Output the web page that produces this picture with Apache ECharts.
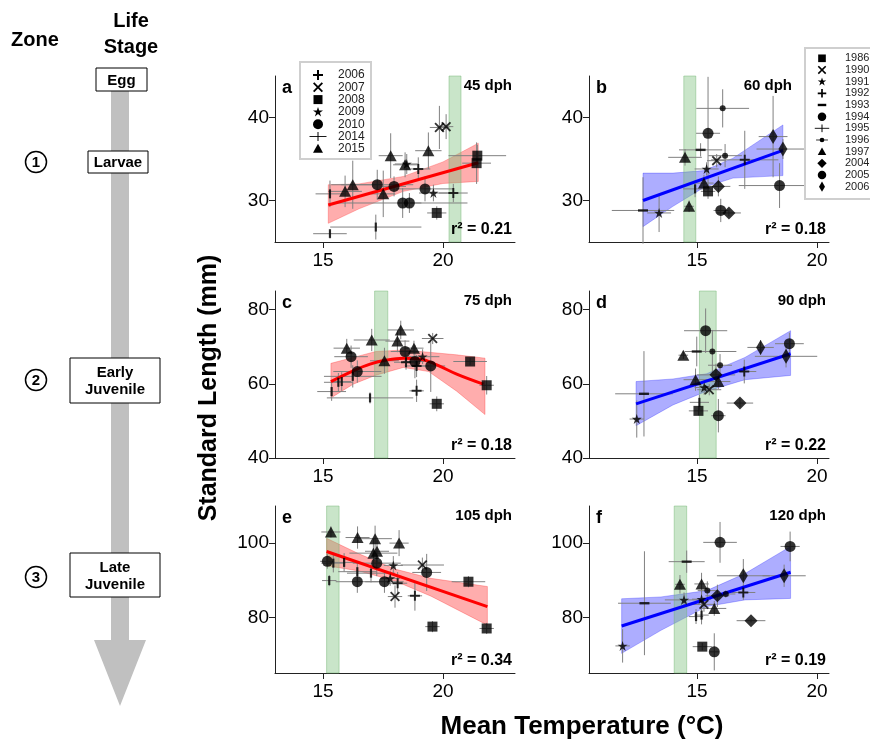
<!DOCTYPE html>
<html><head><meta charset="utf-8">
<script src="https://cdn.jsdelivr.net/npm/echarts@6/dist/echarts.min.js"></script>
<style>html,body{margin:0;padding:0;background:#fff}#c{width:870px;height:739px}</style>
</head><body><div id="c"></div>
<script>
const FONT = '"Liberation Sans", Arial, Helvetica, sans-serif';

// ---------------- data ----------------
const panelLetters = ['a','b','c','d','e','f'];
const panelAges = ['45 dph','60 dph','75 dph','90 dph','105 dph','120 dph'];
const panelR2 = ['0.21','0.18','0.18','0.22','0.34','0.19'];
const xTickValues = [15, 20];
const yTickValues = [[30, 40], [40, 60, 80], [80, 100]];
const greenBands = [[20.25,20.75],[14.45,14.95],[17.15,17.7],[15.1,15.8],[15.15,15.67],[14.05,14.57]];

const legendYearsA = ['2006','2007','2008','2009','2010','2014','2015'];
const legendSymbolsA = ['plus','x','sq','star','circ','tick','tri'];
const legendYearsB = ['1986','1990','1991','1992','1993','1994','1995','1996','1997','2004','2005','2006'];
const legendSymbolsB = ['sq','x','star','plus','minus','circ','tick','dot','tri','dia','circ','tdia'];

// rows: [year, mean temperature, standard length, temp error, length error]
const pointsA = [
 ['2015',15.92,31.1,0.7,1.9],['2015',16.24,31.9,0.9,2.9],['2015',17.51,30.8,0.5,2.8],
 ['2015',17.82,35.4,0.5,2.7],['2015',18.42,34.3,0.5,1.5],['2015',19.39,36.0,0.55,2.2],
 ['2009',18.49,34.4,0.5,1.2],['2009',19.60,30.9,0.6,1.0],
 ['2010',17.26,31.9,1.5,1.8],['2010',17.96,31.7,0.5,1.2],['2010',18.32,29.7,2.7,1.8],
 ['2010',18.60,29.7,0.5,1.2],['2010',19.25,31.4,1.2,1.5],
 ['2008',19.74,28.5,0.4,0.8],['2008',21.43,35.4,1.2,1.3],['2008',21.40,34.5,0.6,2.5],
 ['2007',19.85,38.8,0.4,2.6],['2007',20.13,38.9,0.3,1.5],
 ['2006',18.97,33.8,0.5,1.4],['2006',20.43,30.9,0.6,1.1],
 ['2014',15.29,26.0,0.7,0.4],['2014',17.20,26.8,1.9,1.5],['2014',15.29,30.8,0.6,1.6]
];
const pointsB = [
 ['1986',15.46,31.1,0.3,0.9],['1990',15.82,34.8,0.4,0.8],
 ['1991',13.42,28.5,0.5,2.3],['1991',15.40,33.8,0.5,0.8],
 ['1992',16.99,34.9,1.4,3.5],
 ['1993',12.75,28.8,1.3,4.0],['1993',15.15,36.1,0.9,0.8],
 ['1994',15.46,38.1,0.5,6.8],['1994',18.44,31.8,1.7,2.7],
 ['1995',14.92,31.4,0.5,1.0],
 ['1996',16.07,41.1,1.1,2.3],['1996',16.17,35.4,0.7,1.4],
 ['1997',14.50,35.2,0.7,1.0],['1997',14.67,29.3,0.2,0.7],['1997',15.29,32.1,0.4,1.0],
 ['2004',15.89,31.7,0.5,1.2],['2004',16.33,28.5,0.5,0.4],
 ['2005',15.99,28.8,0.3,1.4],
 ['2006',18.17,37.7,0.6,4.9],['2006',18.58,36.2,1.1,1.2]
];
const pointsC = [
 ['2015',15.99,69.6,0.55,2.5],['2015',17.03,71.8,0.75,3.0],['2015',18.24,74.5,0.55,2.5],
 ['2015',18.10,71.5,0.5,3.0],['2015',18.79,69.6,0.4,2.0],['2015',17.56,66.2,0.6,3.5],
 ['2010',16.17,67.3,0.7,3.0],['2010',16.43,63.3,1.0,3.0],['2010',18.42,68.7,0.6,3.0],
 ['2010',18.83,66.0,0.5,4.5],['2010',19.49,64.8,0.6,7.0],
 ['2007',19.57,72.2,0.45,1.5],['2009',19.15,67.3,0.7,2.0],
 ['2008',21.13,66.0,0.7,1.0],['2008',21.82,59.6,0.3,2.5],['2008',19.74,54.6,0.3,2.0],
 ['2006',18.46,65.8,0.5,2.0],['2006',18.90,64.8,0.5,3.0],['2006',18.90,58.1,0.3,3.0],
 ['2014',15.36,57.9,0.6,2.5],['2014',15.64,60.4,0.6,2.5],['2014',15.78,60.6,0.4,2.5],
 ['2014',16.24,62.0,1.2,3.0],['2014',16.96,56.2,1.8,1.5]
];
const pointsD = [
 ['1991',12.49,50.5,0.3,5.0],['1993',12.79,57.3,1.2,11.5],['1993',14.99,68.7,0.5,4.0],
 ['1997',14.43,67.7,0.2,1.0],['1997',14.94,61.1,0.5,3.0],['1997',15.89,60.6,0.5,2.0],
 ['1994',15.36,74.3,0.9,6.0],['1994',18.85,70.8,0.6,3.0],['2005',15.89,51.4,0.3,4.5],
 ['1996',15.64,68.7,1.0,5.8],['1996',15.96,65.0,0.5,3.0],
 ['1986',15.06,52.7,0.4,1.2],['1990',15.51,58.4,0.5,1.5],
 ['2004',15.79,62.4,0.8,3.0],['2004',16.79,54.8,0.55,1.0],
 ['2006',17.65,69.8,0.55,2.0],['2006',18.71,67.4,1.3,3.0],
 ['1992',16.97,63.3,0.5,3.2],['1995',15.10,55.0,0.4,2.0],['1991',15.30,59.0,0.4,2.0]
];
const pointsE = [
 ['2015',15.33,103.0,0.4,1.5],['2015',16.44,101.5,0.5,3.0],['2015',17.17,101.2,0.7,3.5],
 ['2015',18.17,100.0,0.4,3.5],['2015',17.10,97.3,1.0,4.0],['2015',17.25,97.8,0.5,3.0],
 ['2010',15.18,95.1,0.3,2.0],['2010',16.43,89.6,0.9,3.0],['2010',17.24,94.6,1.0,3.5],
 ['2010',17.56,89.6,0.8,3.0],['2010',19.32,92.1,0.6,5.0],
 ['2014',15.43,94.6,0.5,2.5],['2014',15.26,89.9,0.3,1.5],['2014',15.88,94.8,0.6,2.5],
 ['2014',16.43,92.3,0.8,2.5],['2014',17.00,91.9,1.0,2.5],
 ['2009',17.93,94.0,0.4,2.5],['2009',17.80,90.5,0.4,2.0],
 ['2007',19.14,94.1,0.9,2.0],['2007',18.00,85.6,0.3,3.0],
 ['2006',18.11,89.2,0.4,3.0],['2006',18.83,85.8,0.3,4.0],
 ['2008',21.06,89.6,0.7,1.5],['2008',21.82,77.0,0.3,1.5],['2008',19.56,77.5,0.3,1.5]
];
const pointsF = [
 ['1991',11.90,72.3,0.3,4.5],['1991',14.46,84.7,0.8,2.0],['1991',15.19,84.9,0.4,3.5],
 ['1993',12.81,83.8,1.1,14.0],['1993',14.57,95.0,0.75,3.0],
 ['1997',14.29,88.9,0.2,2.5],['1997',15.19,89.0,0.3,3.0],['1997',15.72,82.4,0.5,2.0],
 ['1996',15.43,87.2,0.4,2.5],['1996',16.20,86.3,0.4,1.0],
 ['1990',15.29,83.5,0.5,2.0],['2004',15.85,85.8,0.5,3.0],['2004',17.25,79.1,0.6,0.5],
 ['2006',16.93,91.2,1.1,4.5],['2006',18.63,91.2,0.9,3.0],
 ['1994',15.96,100.2,0.7,5.5],['1994',18.88,99.1,0.4,4.0],
 ['2005',15.72,70.7,0.2,5.0],['1986',15.22,72.1,0.4,1.0],['1992',16.93,86.7,0.5,2.0],
 ['1995',14.96,80.2,0.3,2.0],['1995',15.19,80.6,0.3,2.5]
];

// regression fits
const lineAx = [15.22, 21.47], lineAy = [29.46, 34.55];
const lineBx = [12.75, 18.58], lineBy = [30.0, 36.04];
const lineCx = [15.33,16.26,16.96,17.65,18.35,19.04,19.74,20.57,21.68];
const lineCy = [60.6,63.5,65.3,66.4,66.9,66.7,65.1,62.6,59.9];
const lineDx = [12.46, 18.9], lineDy = [54.6, 68.1];
const lineEx = [15.15, 21.85], lineEy = [97.75, 82.9];
const lineFx = [11.86, 18.9], lineFy = [77.66, 92.16];

// confidence bands
const bandAx = [15.22,16.5,18.35,20.0,21.47], bandAlo = [27.25,29.0,31.1,32.05,32.3], bandAhi = [31.9,32.0,32.9,34.65,36.9];
const bandBx = [12.75,14.0,15.3,16.5,18.58], bandBlo = [26.85,29.3,31.6,32.7,33.0], bandBhi = [33.3,33.3,33.6,35.1,39.1];
const bandCx = [15.33,16.26,17.2,18.35,19.4,20.57,21.75], bandClo = [56.2,59.9,62.3,64.4,63.3,58.0,51.7], bandChi = [65.5,67.1,68.7,69.1,68.5,67.8,66.9];
const bandDx = [12.46,14.0,15.4,17.0,18.9], bandDlo = [48.7,54.3,58.0,61.1,62.25], bandDhi = [60.6,61.3,62.7,67.1,74.3];
const bandEx = [15.15,16.5,18.0,19.5,21.85], bandElo = [93.9,92.5,89.8,85.7,77.9], bandEhi = [101.3,97.1,93.0,90.5,88.3];
const bandFx = [11.86,13.5,15.4,17.0,18.9], bandFlo = [70.3,76.5,82.9,84.7,85.1], bandFhi = [85.0,85.5,87.2,91.8,99.1];

// ---------------- layout / style ----------------
const gridLeft = [275, 589];
const gridTop = [76, 291, 506];
const gridH = [166, 167, 167];
const gridW = 240;
const xRange = [[13, 23], [10.5, 20.5]];
const yRange = [[25, 45], [40, 85], [65, 110]];
const ageRightInset = [3, 37, 3, 3, 3, 3];

// marker outlines in a 10x10 box
const SHAPE_PTS = {
  plus: [[4,0],[6,0],[6,4],[10,4],[10,6],[6,6],[6,10],[4,10],[4,6],[0,6],[0,4],[4,4]],
  x: [[0,1.3],[1.3,0],[5,3.7],[8.7,0],[10,1.3],[6.3,5],[10,8.7],[8.7,10],[5,6.3],[1.3,10],[0,8.7],[3.7,5]],
  star: [[5,0],[6.2,3.6],[10,3.6],[6.9,5.8],[8.1,9.5],[5,7.2],[1.9,9.5],[3.1,5.8],[0,3.6],[3.8,3.6]]
};
const toPath = pts => 'path://M' + pts.map(p => p.join(',')).join('L') + 'Z';
const SYMS = {
  plus: {symbol:toPath(SHAPE_PTS.plus), size:[10,10]},
  x: {symbol:toPath(SHAPE_PTS.x), size:[10,10]},
  sq: {symbol:'rect', size:[10,10]},
  star: {symbol:toPath(SHAPE_PTS.star), size:[10,10]},
  circ: {symbol:'circle', size:11},
  tick: {symbol:'rect', size:[2.2,9]},
  tri: {symbol:'triangle', size:[12,11]},
  minus: {symbol:'rect', size:[10,2.4]},
  dot: {symbol:'circle', size:6},
  dia: {symbol:'diamond', size:[13,13]},
  tdia: {symbol:'diamond', size:[9,15]}
};
const mapA = {}; legendYearsA.forEach((y,i)=>mapA[y]=legendSymbolsA[i]);
const mapB = {}; legendYearsB.forEach((y,i)=>mapB[y]=legendSymbolsB[i]);

const panels = [
  {pts: pointsA, map: mapA, lx: lineAx, ly: lineAy, bx: bandAx, blo: bandAlo, bhi: bandAhi, col: 'red'},
  {pts: pointsB, map: mapB, lx: lineBx, ly: lineBy, bx: bandBx, blo: bandBlo, bhi: bandBhi, col: 'blue'},
  {pts: pointsC, map: mapA, lx: lineCx, ly: lineCy, bx: bandCx, blo: bandClo, bhi: bandChi, col: 'red', smooth: true},
  {pts: pointsD, map: mapB, lx: lineDx, ly: lineDy, bx: bandDx, blo: bandDlo, bhi: bandDhi, col: 'blue'},
  {pts: pointsE, map: mapA, lx: lineEx, ly: lineEy, bx: bandEx, blo: bandElo, bhi: bandEhi, col: 'red'},
  {pts: pointsF, map: mapB, lx: lineFx, ly: lineFy, bx: bandFx, blo: bandFlo, bhi: bandFhi, col: 'blue'}
];
const COLS = {
  red: {line:'#ff0000', fill:'rgba(255,0,0,0.32)', edge:'rgba(255,0,0,0.25)'},
  blue: {line:'#0000ff', fill:'rgba(0,0,255,0.32)', edge:'rgba(0,0,255,0.25)'}
};

const grids = [], xAxes = [], yAxes = [], series = [], graphics = [];

panels.forEach((p, i) => {
  const col = i % 2, row = Math.floor(i / 2);
  const L = gridLeft[col], T = gridTop[row], H = gridH[row];
  grids.push({left: L, top: T, width: gridW, height: H});
  xAxes.push({
    type:'value', gridIndex:i, min:xRange[col][0], max:xRange[col][1],
    axisLine:{show:true, onZero:false, lineStyle:{color:'#222', width:1}},
    axisTick:{show:true, customValues:xTickValues, length:6, lineStyle:{color:'#222'}},
    axisLabel:{customValues:xTickValues, fontSize:19, color:'#000', fontFamily:FONT, margin:9},
    splitLine:{show:false}
  });
  yAxes.push({
    type:'value', gridIndex:i, min:yRange[row][0], max:yRange[row][1],
    axisLine:{show:true, onZero:false, lineStyle:{color:'#222', width:1}},
    axisTick:{show:true, customValues:yTickValues[row], length:6, lineStyle:{color:'#222'}},
    axisLabel:{customValues:yTickValues[row], fontSize:19, color:'#000', fontFamily:FONT, margin:6},
    splitLine:{show:false}
  });
  const C = COLS[p.col];
  // confidence band
  series.push({
    type:'custom', xAxisIndex:i, yAxisIndex:i, z:2, silent:true,
    data:[[p.bx[0], p.blo[0]]],
    renderItem:(params, api) => {
      const pts = [];
      for (let k = 0; k < p.bx.length; k++) pts.push(api.coord([p.bx[k], p.bhi[k]]));
      for (let k = p.bx.length - 1; k >= 0; k--) pts.push(api.coord([p.bx[k], p.blo[k]]));
      return {type:'polygon', shape:{points:pts}, style:{fill:C.fill, stroke:C.edge, lineWidth:1}};
    }
  });
  // green temperature band
  const gb = greenBands[i];
  series.push({
    type:'custom', xAxisIndex:i, yAxisIndex:i, z:3, silent:true,
    data:[[gb[0], yRange[row][0]]],
    renderItem:(params, api) => {
      const cs = params.coordSys;
      const x1 = api.coord([gb[0], yRange[row][0]])[0];
      const x2 = api.coord([gb[1], yRange[row][0]])[0];
      return {type:'rect', shape:{x:x1, y:cs.y, width:x2 - x1, height:cs.height},
        style:{fill:'rgba(120,190,120,0.4)', stroke:'rgba(110,180,110,0.45)', lineWidth:1}};
    }
  });
  // error bars
  series.push({
    type:'custom', xAxisIndex:i, yAxisIndex:i, z:4, silent:true,
    encode:{x:0, y:1},
    data: p.pts.map(r => [r[1], r[2], r[3], r[4]]),
    renderItem:(params, api) => {
      const x = api.value(0), y = api.value(1), xe = api.value(2), ye = api.value(3);
      const a = api.coord([x - xe, y]), b = api.coord([x + xe, y]);
      const c = api.coord([x, y - ye]), d = api.coord([x, y + ye]);
      const st = {stroke:'#808080', lineWidth:1};
      return {type:'group', children:[
        {type:'line', shape:{x1:a[0], y1:a[1], x2:b[0], y2:b[1]}, style:st},
        {type:'line', shape:{x1:c[0], y1:c[1], x2:d[0], y2:d[1]}, style:st}
      ]};
    }
  });
  // regression line
  series.push({
    type:'line', xAxisIndex:i, yAxisIndex:i, z:5, silent:true,
    data: p.lx.map((x, k) => [x, p.ly[k]]),
    symbol:'none', smooth: p.smooth ? 0.4 : false,
    lineStyle:{color:C.line, width:3}
  });
  // points
  series.push({
    type:'scatter', xAxisIndex:i, yAxisIndex:i, z:6, silent:true,
    itemStyle:{color:'#000'},
    data: p.pts.map(r => {
      const s = SYMS[p.map[r[0]]];
      return {value:[r[1], r[2]], symbol:s.symbol, symbolSize:s.size};
    })
  });
  // panel texts
  graphics.push({type:'text', x:L + 7, y:T + 12, z:50,
    style:{text:panelLetters[i], font:'bold 18px ' + FONT, fill:'#000', textAlign:'left', textVerticalAlign:'middle'}});
  graphics.push({type:'text', x:L + gridW - ageRightInset[i], y:T + 10, z:50,
    style:{text:panelAges[i], font:'bold 15px ' + FONT, fill:'#000', textAlign:'right', textVerticalAlign:'middle'}});
  graphics.push({type:'text', x:L + gridW - 3, y:T + H - 12, z:50,
    style:{text:'r\u00B2 = ' + panelR2[i], font:'bold 16px ' + FONT, fill:'#000', textAlign:'right', textVerticalAlign:'middle'}});
});

// ---------------- legends ----------------
function iconEls(key, cx, cy, s) {
  const k = 10 * s, h = k / 2, z = 101;
  const f = {fill:'#000'};
  switch (key) {
    case 'sq': return [{type:'rect', z, shape:{x:cx-h*0.9, y:cy-h*0.9, width:k*0.9, height:k*0.9}, style:f}];
    case 'circ': return [{type:'circle', z, shape:{cx, cy, r:h}, style:f}];
    case 'dot': return [
      {type:'line', z, shape:{x1:cx-k*0.7, y1:cy, x2:cx+k*0.7, y2:cy}, style:{stroke:'#000', lineWidth:0.8}},
      {type:'circle', z, shape:{cx, cy, r:h*0.55}, style:f}];
    case 'tri': return [{type:'polygon', z, shape:{points:[[cx,cy-h],[cx+h,cy+h*0.8],[cx-h,cy+h*0.8]]}, style:f}];
    case 'dia': return [{type:'polygon', z, shape:{points:[[cx,cy-h*1.1],[cx+h*1.1,cy],[cx,cy+h*1.1],[cx-h*1.1,cy]]}, style:f}];
    case 'tdia': return [{type:'polygon', z, shape:{points:[[cx,cy-h*1.2],[cx+h*0.7,cy],[cx,cy+h*1.2],[cx-h*0.7,cy]]}, style:f}];
    case 'minus': return [{type:'rect', z, shape:{x:cx-h, y:cy-1.2, width:k, height:2.4}, style:f}];
    case 'tick': return [
      {type:'line', z, shape:{x1:cx-k*0.85, y1:cy, x2:cx+k*0.85, y2:cy}, style:{stroke:'#000', lineWidth:0.9}},
      {type:'line', z, shape:{x1:cx, y1:cy-h*0.9, x2:cx, y2:cy+h*0.9}, style:{stroke:'#000', lineWidth:1}}];
    default: return [{type:'polygon', z,
      shape:{points:SHAPE_PTS[key].map(q => [cx - h + q[0] * s, cy - h + q[1] * s])}, style:f}];
  }
}
// legend A
graphics.push({type:'rect', z:100, shape:{x:300, y:62, width:71, height:97}, style:{fill:'#fff', stroke:'#cfcfcf', lineWidth:2}});
legendYearsA.forEach((yr, i) => {
  const cy = 75 + 12.3 * i;
  iconEls(legendSymbolsA[i], 318, cy, 1).forEach(e => graphics.push(e));
  graphics.push({type:'text', z:101, x:338, y:cy, style:{text:yr, font:'12px ' + FONT, fill:'#222', textAlign:'left', textVerticalAlign:'middle'}});
});
// legend B
graphics.push({type:'rect', z:100, shape:{x:805, y:48, width:80, height:151}, style:{fill:'#fff', stroke:'#cfcfcf', lineWidth:2}});
legendYearsB.forEach((yr, i) => {
  const cy = 58.3 + 11.67 * i;
  iconEls(legendSymbolsB[i], 822, cy, 0.85).forEach(e => graphics.push(e));
  graphics.push({type:'text', z:101, x:845, y:cy, style:{text:yr, font:'11px ' + FONT, fill:'#222', textAlign:'left', textVerticalAlign:'middle'}});
});

// ---------------- axis titles ----------------
graphics.push({type:'text', x:209, y:388, rotation:Math.PI/2, z:50,
  style:{text:'Standard Length (mm)', font:'bold 25px ' + FONT, fill:'#000', textAlign:'center', textVerticalAlign:'middle'}});
graphics.push({type:'text', x:582, y:727, z:50,
  style:{text:'Mean Temperature (\u00B0C)', font:'bold 26px ' + FONT, fill:'#000', textAlign:'center', textVerticalAlign:'middle'}});

// ---------------- life stage diagram ----------------
const stageNames = ['Egg', 'Larvae', 'Early\nJuvenile', 'Late\nJuvenile'];
const zoneNames = ['1', '2', '3'];
graphics.push({type:'text', x:35, y:40, z:50, style:{text:'Zone', font:'bold 20px ' + FONT, fill:'#000', textAlign:'center', textVerticalAlign:'middle'}});
graphics.push({type:'text', x:131, y:34, z:50, style:{text:'Life\nStage', font:'bold 20px ' + FONT, lineHeight:26, fill:'#000', textAlign:'center', textVerticalAlign:'middle'}});
graphics.push({type:'polygon', z:10, shape:{points:[[111,91],[129,91],[129,640],[146,640],[120,706],[94,640],[111,640]]}, style:{fill:'#c0c0c0'}});
const stageBoxes = [[96,68,51,23],[88,151,60,22],[70,358,90,45],[70,553,90,44]];
stageBoxes.forEach((b, i) => {
  graphics.push({type:'rect', z:20, shape:{x:b[0], y:b[1], width:b[2], height:b[3]}, style:{fill:'#fff', stroke:'#000', lineWidth:1}});
  graphics.push({type:'text', z:21, x:b[0] + b[2]/2, y:b[1] + b[3]/2 + 1,
    style:{text:stageNames[i], font:'bold 15px ' + FONT, lineHeight:17, fill:'#000', textAlign:'center', textVerticalAlign:'middle'}});
});
const zoneY = [162, 380, 577];
zoneY.forEach((y, i) => {
  graphics.push({type:'circle', z:20, shape:{cx:36, cy:y, r:10.5}, style:{fill:'#fff', stroke:'#000', lineWidth:1.5}});
  graphics.push({type:'text', z:21, x:36, y:y + 0.5, style:{text:zoneNames[i], font:'bold 15px ' + FONT, fill:'#000', textAlign:'center', textVerticalAlign:'middle'}});
});

const chart = echarts.init(document.getElementById('c'), null, {renderer:'canvas'});
chart.setOption({
  animation:false,
  backgroundColor:'#fff',
  textStyle:{fontFamily:FONT},
  grid:grids, xAxis:xAxes, yAxis:yAxes, series:series,
  graphic:{elements:graphics}
});
</script></body></html>
